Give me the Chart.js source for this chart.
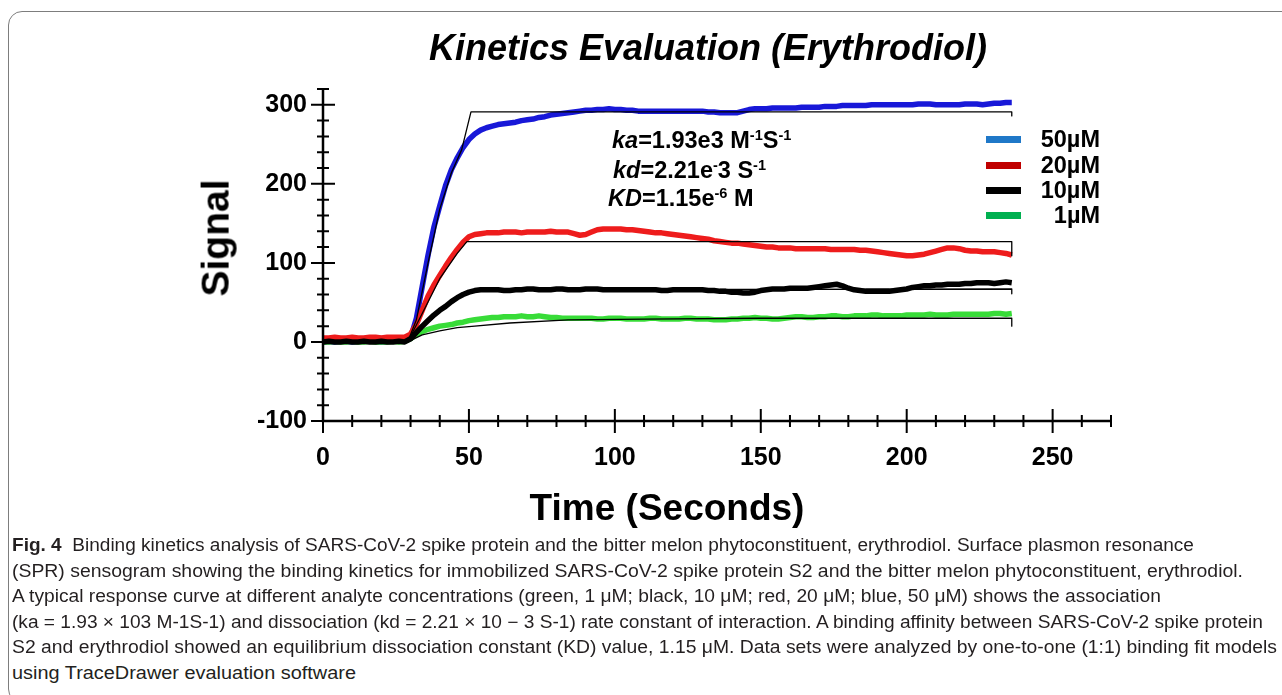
<!DOCTYPE html>
<html>
<head>
<meta charset="utf-8">
<script src="https://cdn.jsdelivr.net/npm/chart.js@4.4.1/dist/chart.umd.min.js"></script>
<style>
  body { margin: 0; background: #fff; width: 1282px; height: 695px; overflow: hidden; position: relative;
         font-family: "Liberation Sans", Arial, sans-serif; color: #000; }
  .card { position: absolute; left: 8px; top: 11px; width: 1300px; height: 690px;
          border: 1.5px solid #7d7d7d; border-radius: 14px; }
  #chart { position: absolute; left: 0; top: 0; }
  .t { position: absolute; white-space: nowrap; font-weight: bold; line-height: 1.2; }
  .t sup { font-size: 0.62em; vertical-align: 0.55em; line-height: 0; }
  .legend-row { position: absolute; left: 986px; width: 114px; height: 26px; }
  .legend-row i { position: absolute; left: 0; top: 10px; width: 35px; height: 7px; }
  .legend-row span { position: absolute; right: 0; top: 0; font-weight: bold; font-size: 23.5px; line-height: 26px; }
  .cap { position: absolute; left: 12px; white-space: nowrap; font-size: 17.5px; line-height: 20px;
         transform-origin: 0 50%; color: #231f20; }
</style>
</head>
<body>
<div class="card"></div>
<canvas id="chart" width="1282" height="540"></canvas>

<div class="t" style="left:708px; top:48px; transform:translate(-50%,-50%); font-size:36px; font-style:italic;">Kinetics Evaluation (Erythrodiol)</div>
<div class="t" style="left:216px; top:238px; transform:translate(-50%,-50%) rotate(-90deg); font-size:39px;">Signal</div>
<div class="t" style="left:667px; top:508px; transform:translate(-50%,-50%); font-size:37px;">Time (Seconds)</div>

<div class="t" style="left:612px; top:140px; transform:translateY(-50%); font-size:23.5px;"><i>ka</i>=1.93e3 M<sup>-1</sup>S<sup>-1</sup></div>
<div class="t" style="left:613px; top:170px; transform:translateY(-50%); font-size:23.5px;"><i>kd</i>=2.21e<sup>-</sup>3 S<sup>-1</sup></div>
<div class="t" style="left:608px; top:198px; transform:translateY(-50%); font-size:23.5px;"><i>KD</i>=1.15e<sup>-6</sup> M</div>

<div id="legend"></div>

<div id="caption">
  <div class="cap"><b>Fig. 4</b>&nbsp;&nbsp;Binding kinetics analysis of SARS-CoV-2 spike protein and the bitter melon phytoconstituent, erythrodiol. Surface plasmon resonance</div>
  <div class="cap">(SPR) sensogram showing the binding kinetics for immobilized SARS-CoV-2 spike protein S2 and the bitter melon phytoconstituent, erythrodiol.</div>
  <div class="cap">A typical response curve at different analyte concentrations (green, 1 μM; black, 10 μM; red, 20 μM; blue, 50 μM) shows the association</div>
  <div class="cap">(ka = 1.93 × 103 M-1S-1) and dissociation (kd = 2.21 × 10 − 3 S-1) rate constant of interaction. A binding affinity between SARS-CoV-2 spike protein</div>
  <div class="cap">S2 and erythrodiol showed an equilibrium dissociation constant (KD) value, 1.15 μM. Data sets were analyzed by one-to-one (1:1) binding fit models</div>
  <div class="cap">using TraceDrawer evaluation software</div>
</div>

<script>
// sampling times (s)
const time = [0,2,4,6,8,10,12,14,16,18,20,22,24,26,28,
  30,32,34,36,38,40,42,44,46,48,50,52,54,56,58,60,
  62,64,66,68,70,72,74,76,78,80,82,84,86,88,90,92,94,96,98,100,
  102,104,106,108,110,112,114,116,118,120,122,124,126,128,130,132,134,136,138,140,
  142,144,146,148,150,152,154,156,158,160,162,164,166,168,170,172,174,176,178,180,
  182,184,186,188,190,192,194,196,198,200,202,204,206,208,210,212,214,216,218,220,
  222,224,226,228,230,232,234,236];

// measured signal per concentration
const blue50 = [0,1,0,1,1,0,1,2,1,1,0,1,2,1,2,
  5,30,70,110,145,172,198,218,233,246,256,263,268,271,273,275,
  276,277,278,280,281,282,284,285,287,288,289,290,291,292,293,293,294,294,295,294,
  294,293,293,292,292,292,292,292,292,292,292,292,292,292,292,291,291,290,290,290,
  290,292,294,295,295,295,296,296,296,296,296,297,297,297,297,298,298,298,299,299,
  299,299,299,300,300,300,300,300,300,300,300,301,301,301,300,300,300,300,300,301,
  301,301,300,301,302,302,303,303];
const red20 = [5,5,6,5,5,6,5,5,6,6,5,6,6,6,6,
  10,22,40,58,72,84,96,107,117,126,133,136,137,138,138,138,
  139,139,139,138,139,139,139,139,140,139,139,139,137,135,136,139,142,143,143,143,
  143,142,142,141,140,139,138,138,137,136,135,134,133,132,131,130,128,127,126,125,
  125,124,123,122,121,120,120,119,119,119,118,118,118,118,118,118,117,117,117,117,
  117,116,116,115,114,113,112,111,110,109,109,110,111,113,115,117,119,119,118,116,
  115,115,114,114,114,113,112,110];
const black10 = [0,1,0,0,1,0,0,1,0,0,1,0,0,1,0,
  4,12,20,27,34,40,45,51,56,60,63,65,66,66,66,66,
  65,65,66,66,67,67,66,66,66,67,67,66,66,66,67,67,67,66,66,66,
  66,66,66,66,66,66,66,65,65,66,66,66,66,66,66,65,65,64,64,63,
  63,62,62,63,65,66,67,67,67,68,68,68,68,69,70,71,72,73,71,68,
  66,65,64,64,64,64,64,65,66,67,69,70,71,71,72,72,73,73,73,74,
  74,75,75,75,74,75,76,75];
const green1 = [0,0,1,0,0,1,0,0,1,0,0,0,1,0,1,
  4,9,13,16,18,20,21,22,24,25,27,28,29,30,31,31,
  32,32,32,33,32,32,33,32,31,31,30,30,30,30,30,30,29,29,30,30,
  30,29,29,29,29,30,30,29,29,29,29,30,30,29,29,29,28,28,28,29,
  29,30,30,31,30,30,29,29,30,31,32,32,31,31,32,32,33,33,32,32,
  33,33,33,34,34,33,33,33,33,34,34,34,34,35,34,34,34,35,35,35,
  35,35,35,35,36,36,35,36];

// 1:1 binding fit curves
const blueFitT = [0, 29, 32, 36, 40, 44, 47.5, 50.7, 236, 236];
const blueFitV = [0, 0, 28, 100, 168, 214, 243, 291, 291, 286];
const redFitT = [0, 29, 34, 40, 46, 49.3, 236, 236];
const redFitV = [0, 0, 36, 80, 112, 127, 127, 109];
const blackFitT = [0, 29, 34, 40, 46, 51, 236, 236];
const blackFitV = [0, 0, 18, 38, 55, 66, 67, 61];
const greenFitT = [0, 29, 34, 40, 46, 52, 64, 84, 110, 150, 236, 236];
const greenFitV = [0, 0, 9, 14, 18, 20, 24, 28, 29, 30, 30, 20];

const xTickLabels = [0, 50, 100, 150, 200, 250];
const yTickLabels = [-100, 0, 100, 200, 300];
const xMinorTicks = [10,20,30,40,60,70,80,90,110,120,130,140,160,170,180,190,210,220,230,240,260,270];
const yMinorTicks = [-80,-60,-40,-20,20,40,60,80,120,140,160,180,220,240,260,280,320];

const legendLabels = ['50µM', '20µM', '10µM', '1µM'];
const legendColors = ['#1f78c8', '#c00000', '#000000', '#00b050'];

// legend
const legendTops = [126, 152, 177, 202];
const legend = document.getElementById('legend');
legendLabels.forEach((lab, i) => {
  const row = document.createElement('div');
  row.className = 'legend-row';
  row.style.top = legendTops[i] + 'px';
  row.innerHTML = '<i style="background:' + legendColors[i] + '"></i><span>' + lab + '</span>';
  legend.appendChild(row);
});

// caption lines
const capRight = [1194, 1243, 1161, 1263, 1277, 356];
document.querySelectorAll('.cap').forEach((el, i) => {
  el.style.top = (545 + 25.6 * i - 10) + 'px';
  const w = el.getBoundingClientRect().width;
  el.style.transform = 'scaleX(' + ((capRight[i] - 12) / w).toFixed(4) + ')';
});

const pts = (xs, ys) => xs.map((t, i) => ({ x: t, y: ys[i] }));

const crossAxes = {
  id: 'crossAxes',
  afterDatasetsDraw(chart) {
    const { ctx, scales: { x, y } } = chart;
    const x0 = x.getPixelForValue(0);
    const y0 = y.getPixelForValue(-100);
    ctx.save();
    ctx.strokeStyle = '#000';
    ctx.lineWidth = 2.5;
    ctx.beginPath();
    ctx.moveTo(x0, y.getPixelForValue(320));
    ctx.lineTo(x0, y0);
    ctx.lineTo(x.getPixelForValue(270), y0);
    ctx.stroke();
    ctx.lineWidth = 2;
    ctx.beginPath();
    const tick = (v, len, horiz) => {
      if (horiz) { const p = x.getPixelForValue(v); ctx.moveTo(p, y0 - len); ctx.lineTo(p, y0 + len); }
      else { const p = y.getPixelForValue(v); ctx.moveTo(x0 - len, p); ctx.lineTo(x0 + len, p); }
    };
    xTickLabels.forEach(v => tick(v, 12, true));
    xMinorTicks.forEach(v => tick(v, 6, true));
    yTickLabels.forEach(v => tick(v, 12, false));
    yMinorTicks.forEach(v => tick(v, 6, false));
    ctx.stroke();
    ctx.restore();
  }
};

const tickFont = { family: '"Liberation Sans", Arial, sans-serif', size: 25, weight: 'bold' };
const fit = (xs, ys) => ({ data: pts(xs, ys), borderColor: '#000', borderWidth: 1.3, order: 0 });

new Chart(document.getElementById('chart'), {
  type: 'line',
  data: {
    datasets: [
      fit(blueFitT, blueFitV),
      fit(redFitT, redFitV),
      fit(blackFitT, blackFitV),
      fit(greenFitT, greenFitV),
      { label: legendLabels[2], data: pts(time, black10), borderColor: '#000000', borderWidth: 5.5, order: 1 },
      { label: legendLabels[1], data: pts(time, red20), borderColor: '#ee1c1c', borderWidth: 5.5, order: 2 },
      { label: legendLabels[3], data: pts(time, green1), borderColor: '#38dc38', borderWidth: 5.5, order: 3 },
      { label: legendLabels[0], data: pts(time, blue50), borderColor: '#1818d8', borderWidth: 5.5, order: 4 }
    ]
  },
  options: {
    responsive: false,
    animation: false,
    devicePixelRatio: 1,
    elements: { point: { radius: 0 }, line: { tension: 0, borderJoinStyle: 'round' } },
    layout: { padding: { left: 200, right: 171, top: 89, bottom: 59 } },
    plugins: { legend: { display: false }, tooltip: { enabled: false }, title: { display: false } },
    scales: {
      x: {
        type: 'linear', min: 0, max: 270,
        grid: { display: false, drawTicks: false }, border: { display: false },
        afterBuildTicks: s => { s.ticks = xTickLabels.map(v => ({ value: v })); },
        afterFit: s => { s.height = 60; },
        ticks: { padding: 22, font: tickFont, color: '#000', maxRotation: 0, autoSkip: false }
      },
      y: {
        type: 'linear', min: -100, max: 320,
        grid: { display: false, drawTicks: false }, border: { display: false },
        afterBuildTicks: s => { s.ticks = yTickLabels.map(v => ({ value: v })); },
        afterFit: s => { s.width = 123; },
        ticks: { padding: 16, font: tickFont, color: '#000', autoSkip: false }
      }
    }
  },
  plugins: [crossAxes]
});
</script>
</body>
</html>
